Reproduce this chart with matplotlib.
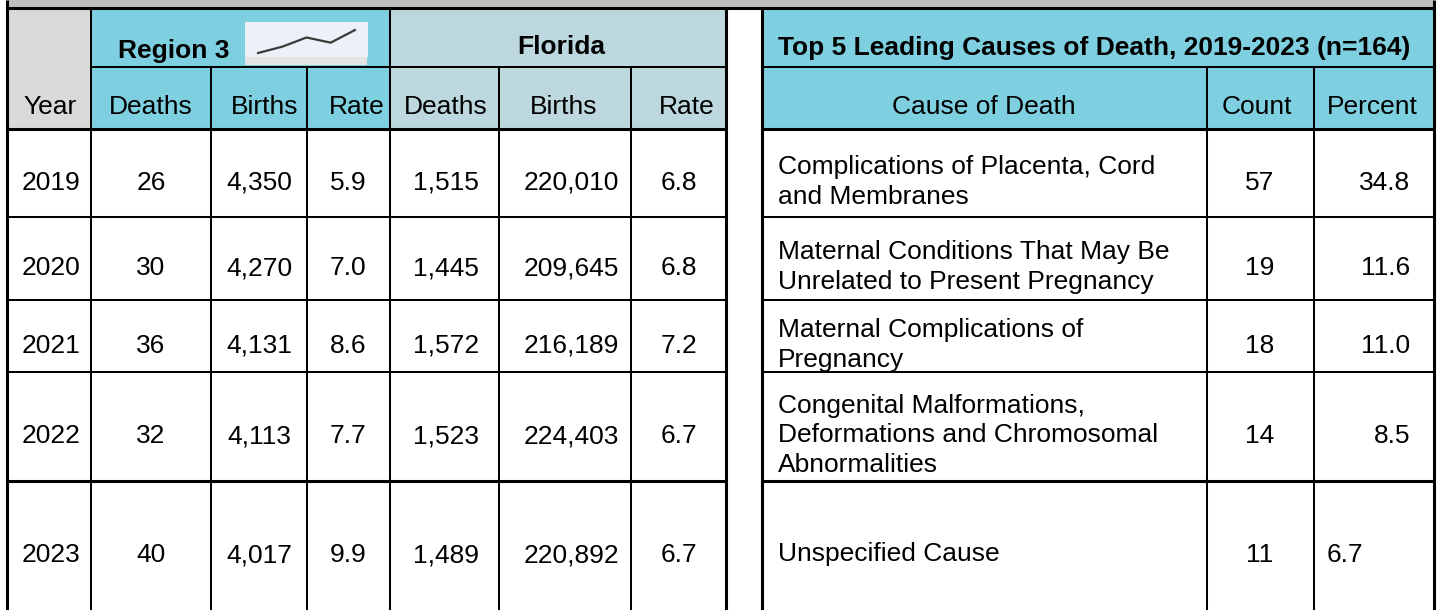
import matplotlib
matplotlib.use("Agg")
import matplotlib.pyplot as plt
from matplotlib.patches import Rectangle

plt.rcParams['font.family'] = ['Liberation Sans', 'DejaVu Sans']

# ---- data ----
YEARS = [2019, 2020, 2021, 2022, 2023]
REGION_DEATHS = [26, 30, 36, 32, 40]
REGION_BIRTHS = [4350, 4270, 4131, 4113, 4017]
REGION_RATE = [5.9, 7.0, 8.6, 7.7, 9.9]
FL_DEATHS = [1515, 1445, 1572, 1523, 1489]
FL_BIRTHS = [220010, 209645, 216189, 224403, 220892]
FL_RATE = [6.8, 6.8, 7.2, 6.7, 6.7]

CAUSES = [
    "Complications of Placenta, Cord\nand Membranes",
    "Maternal Conditions That May Be\nUnrelated to Present Pregnancy",
    "Maternal Complications of\nPregnancy",
    "Congenital Malformations,\nDeformations and Chromosomal\nAbnormalities",
    "Unspecified Cause",
]
CAUSE_COUNT = [57, 19, 18, 14, 11]
CAUSE_PCT = [34.8, 11.6, 11.0, 8.5, 6.7]

LEFT_HEADERS = ["Year", "Deaths", "Births", "Rate", "Deaths", "Births", "Rate"]
RIGHT_HEADERS = ["Cause of Death", "Count", "Percent"]
TITLE_RIGHT = "Top 5 Leading Causes of Death, 2019-2023 (n=164)"

# ---- layout (pixels) ----
W, H = 1437, 610
LEFT_X = [7, 91, 211, 307, 390, 499, 631, 726]
RIGHT_X = [762, 1207, 1314, 1434]
TOP, SPLIT, HEAD_BOT = 8, 67, 129
ROW_Y = [129, 217, 300, 372, 481, 610]
LEFT_HEAD_CX = [50, 151, 265, 357, 446, 564, 687]
LEFT_DATA_CX = [51, 151, 259, 348, 446, 571, 679]
RIGHT_HEAD_CX = [984, 1257, 1372]

CYAN = '#7ECFE0'
FL_BLUE = '#BDD7DE'
GRAY = '#D9D9D9'
BAND = '#BFBFBF'
FS = 19
DY = 2.8  # cap-centre correction for va='center'

fig = plt.figure(figsize=(W / 100, H / 100), dpi=100)
ax = fig.add_axes([0, 0, 1, 1])
ax.set_xlim(0, W)
ax.set_ylim(H, 0)
ax.axis('off')


def rect(x0, y0, x1, y1, color):
    ax.add_patch(Rectangle((x0, y0), x1 - x0, y1 - y0, facecolor=color,
                           edgecolor='none', zorder=1))


def txt(x, y, s, ha='center', bold=False, **kw):
    ax.text(x, y + DY, s, ha=ha, va='center', fontsize=FS,
            fontweight='bold' if bold else 'normal', color='black',
            zorder=5, **kw)


# backgrounds
rect(LEFT_X[0], 0, RIGHT_X[-1], TOP, BAND)
rect(LEFT_X[0], TOP, LEFT_X[1], HEAD_BOT, GRAY)
rect(LEFT_X[1], TOP, LEFT_X[4], HEAD_BOT, CYAN)
rect(LEFT_X[4], TOP, LEFT_X[7], HEAD_BOT, FL_BLUE)
rect(RIGHT_X[0], TOP, RIGHT_X[-1], HEAD_BOT, CYAN)

# borders
THICK, THIN = 2.2, 1.45
ax.hlines(TOP, LEFT_X[0], RIGHT_X[-1], colors='black', lw=THICK, zorder=4)
for x0, x1 in [(LEFT_X[1], LEFT_X[-1]), (RIGHT_X[0], RIGHT_X[-1])]:
    ax.hlines(SPLIT, x0, x1, colors='black', lw=THIN, zorder=4)
for x0, x1 in [(LEFT_X[0], LEFT_X[-1]), (RIGHT_X[0], RIGHT_X[-1])]:
    for i, y in enumerate(ROW_Y[:-1]):
        lw = THICK if i in (0, 4) else THIN
        ax.hlines(y, x0, x1, colors='black', lw=lw, zorder=4)

for x in [LEFT_X[0], RIGHT_X[-1]]:
    ax.vlines(x, 0, H, colors='black', lw=THICK, zorder=4)
for x in [LEFT_X[-1], RIGHT_X[0]]:
    ax.vlines(x, TOP, H, colors='black', lw=THICK, zorder=4)
for x in [LEFT_X[1], LEFT_X[4]]:
    ax.vlines(x, TOP, H, colors='black', lw=THIN, zorder=4)
for x in [LEFT_X[2], LEFT_X[3], LEFT_X[5], LEFT_X[6], RIGHT_X[1], RIGHT_X[2]]:
    ax.vlines(x, SPLIT, H, colors='black', lw=THIN, zorder=4)

# header row 1
txt(174, 48, "Region 3", bold=True)
txt(561, 44, "Florida", bold=True)
txt(1094, 45, TITLE_RIGHT, bold=True)

# sparkline of region rate
rect(245, 57, 367, 65, '#E4E4E4')
sax = fig.add_axes([245 / W, 1 - 57 / H, 123 / W, 35 / H])
sax.set_facecolor('#EDF0F8')
sax.plot(YEARS, REGION_RATE, color='#3A3A3A', lw=1.6)
sax.set_xlim(2018.46, 2023.54)
sax.set_ylim(5.2, 11.3)
sax.set_xticks([])
sax.set_yticks([])
for s in sax.spines.values():
    s.set_visible(False)

# header row 2
HY = 104
for cx, s in zip(LEFT_HEAD_CX, LEFT_HEADERS):
    txt(cx, HY, s)
for cx, s in zip(RIGHT_HEAD_CX, RIGHT_HEADERS):
    txt(cx, HY, s)

# body
for i in range(len(YEARS)):
    yc = (ROW_Y[i] + ROW_Y[i + 1]) / 2 + 7
    vals = [str(YEARS[i]), f"{REGION_DEATHS[i]}", f"{REGION_BIRTHS[i]:,}",
            f"{REGION_RATE[i]:.1f}", f"{FL_DEATHS[i]:,}", f"{FL_BIRTHS[i]:,}",
            f"{FL_RATE[i]:.1f}"]
    for cx, s in zip(LEFT_DATA_CX, vals):
        txt(cx, yc, s)

    txt(778, yc - 1, CAUSES[i], ha='left', linespacing=1.3)
    txt(1260, yc, f"{CAUSE_COUNT[i]}")
    if i < 4:
        txt(1410, yc, f"{CAUSE_PCT[i]:.1f}", ha='right')
    else:
        txt(1345, yc, f"{CAUSE_PCT[i]:.1f}")

fig.savefig("out.png", dpi=100)
